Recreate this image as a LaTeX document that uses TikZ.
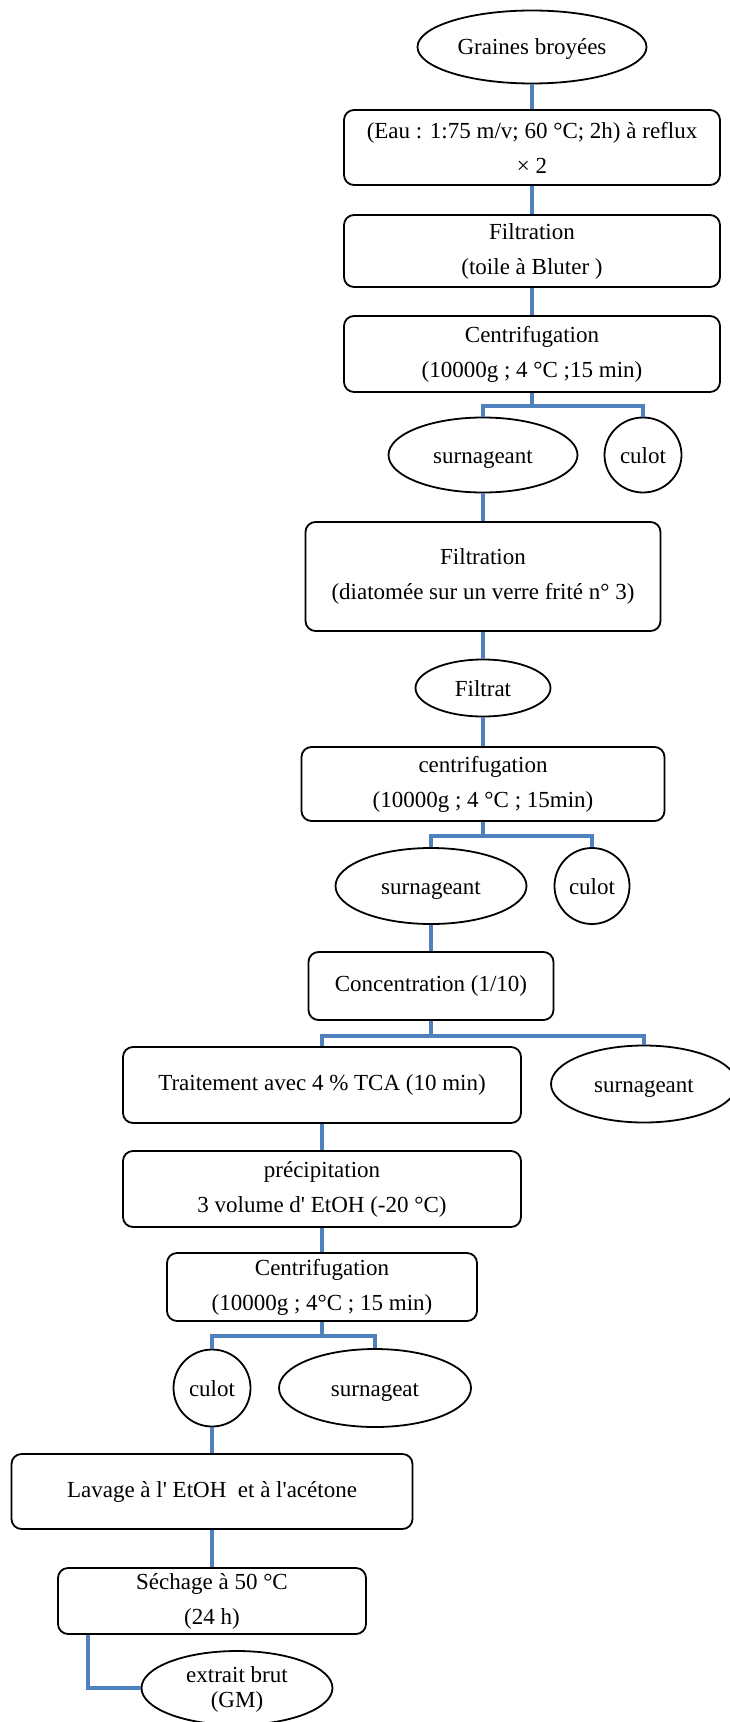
\documentclass[tikz,border=0pt]{standalone}
\usepackage{fontspec}
\setmainfont{Liberation Serif}[Ligatures=TeXOff]
\usetikzlibrary{shapes.geometric}
\definecolor{LinkBlue}{RGB}{79,129,189}
\tikzset{
  link/.style={draw=LinkBlue, line width=2pt},
  stepbox/.style={
    draw=black, line width=0.9pt, rounded corners=5pt,
    align=center, inner sep=2pt,
    font=\fontsize{11.5}{17.5}\selectfont
  },
  oval/.style={
    ellipse, draw=black, line width=0.9pt, inner sep=0pt,
    text height=9pt, text depth=1pt,
    font=\fontsize{11.5}{14}\selectfont
  },
}
\newcommand{\ovaltext}[1]{%
  \makebox[0pt]{\smash{\renewcommand{\arraystretch}{0.9}%
  \begin{tabular}{@{}c@{}}#1\end{tabular}}}}

\begin{document}
\begin{tikzpicture}[x=0.5pt,y=-0.5pt]

\useasboundingbox (0,0) rectangle (729,1722);

% ---- Extraction ----
\node[oval, minimum width=114.5pt, minimum height=36.5pt] (graines) at (532,47) {Graines broyées};
\node[stepbox, minimum width=188pt, minimum height=37.5pt] (eau) at (532,147.5)
  {(Eau : 1:75 m/v; 60 °C; 2h) à reflux\\× 2};
\node[stepbox, minimum width=188pt, minimum height=36pt] (filtA) at (532,251)
  {Filtration\\(toile à Bluter )};
\node[stepbox, minimum width=188pt, minimum height=38pt] (centriA) at (532,354)
  {Centrifugation\\(10000g ; 4 °C ;15 min)};

\node[oval, minimum width=94.5pt, minimum height=37.5pt] (surnA) at (483,455) {surnageant};
\node[oval, minimum width=38.5pt, minimum height=37.5pt] (culotA) at (643,455) {culot};

% ---- Filtration ----
\node[stepbox, minimum width=177.5pt, minimum height=54.5pt] (filtB) at (483,576.5)
  {Filtration\\(diatomée sur un verre frité n° 3)};
\node[oval, minimum width=67.5pt, minimum height=28.5pt] (filtrat) at (483,688) {Filtrat};
\node[stepbox, minimum width=181.5pt, minimum height=37pt] (centriB) at (483,784)
  {centrifugation\\(10000g ; 4 °C ; 15min)};

\node[oval, minimum width=95.5pt, minimum height=38pt] (surnB) at (431,886) {surnageant};
\node[oval, minimum width=37.5pt, minimum height=38pt] (culotB) at (592,886) {culot};

% ---- Concentration / TCA ----
\node[stepbox, minimum width=122.5pt, minimum height=34pt] (conc) at (431,986)
  {Concentration (1/10)};
\node[stepbox, minimum width=199pt, minimum height=38pt] (tca) at (322,1085)
  {Traitement avec 4 \% TCA (10 min)};
\node[oval, minimum width=93pt, minimum height=38.5pt] (surnC) at (644,1084) {surnageant};
\node[stepbox, minimum width=199pt, minimum height=38pt] (precip) at (322,1189)
  {précipitation\\3 volume d' EtOH (-20 °C)};
\node[stepbox, minimum width=155pt, minimum height=34pt] (centriC) at (322,1287)
  {Centrifugation\\(10000g ; 4°C ; 15 min)};

\node[oval, minimum width=38.5pt, minimum height=38.5pt] (culotC) at (212,1388) {culot};
\node[oval, minimum width=96pt, minimum height=39pt] (surnD) at (375,1388) {surnageat};

% ---- Lavage / sechage ----
\node[stepbox, minimum width=200.5pt, minimum height=37.5pt] (lavage) at (212,1491.5)
  {Lavage à l' EtOH\ \ et à l'acétone};
\node[stepbox, minimum width=154pt, minimum height=33pt] (sechage) at (212,1601)
  {Séchage à 50 °C\\(24 h)};
\node[oval, minimum width=95.5pt, minimum height=37pt] (extrait) at (237,1688)
  {\ovaltext{extrait brut\\(GM)}};

% ---- Links ----
\draw[link] (graines.south) -- (eau.north);
\draw[link] (eau.south) -- (filtA.north);
\draw[link] (filtA.south) -- (centriA.north);
\draw[link] (centriA.south) -- ++(0,13) coordinate (forkA) -| (surnA.north);
\draw[link] (forkA) -| (culotA.north);
\draw[link] (surnA.south) -- (filtB.north);
\draw[link] (filtB.south) -- (filtrat.north);
\draw[link] (filtrat.south) -- (centriB.north);
\draw[link] (centriB.south) -- ++(0,14) coordinate (forkB) -| (surnB.north);
\draw[link] (forkB) -| (culotB.north);
\draw[link] (surnB.south) -- (conc.north);
\draw[link] (conc.south) -- ++(0,15) coordinate (forkC) -| (tca.north);
\draw[link] (forkC) -| (surnC.north);
\draw[link] (tca.south) -- (precip.north);
\draw[link] (precip.south) -- (centriC.north);
\draw[link] (centriC.south) -- ++(0,14) coordinate (forkD) -| (culotC.north);
\draw[link] (forkD) -| (surnD.north);
\draw[link] (culotC.south) -- (lavage.north);
\draw[link] (lavage.south) -- (sechage.north);
\draw[link] ([xshift=15.5pt]sechage.south west) |- (extrait.west);

\end{tikzpicture}
\end{document}
